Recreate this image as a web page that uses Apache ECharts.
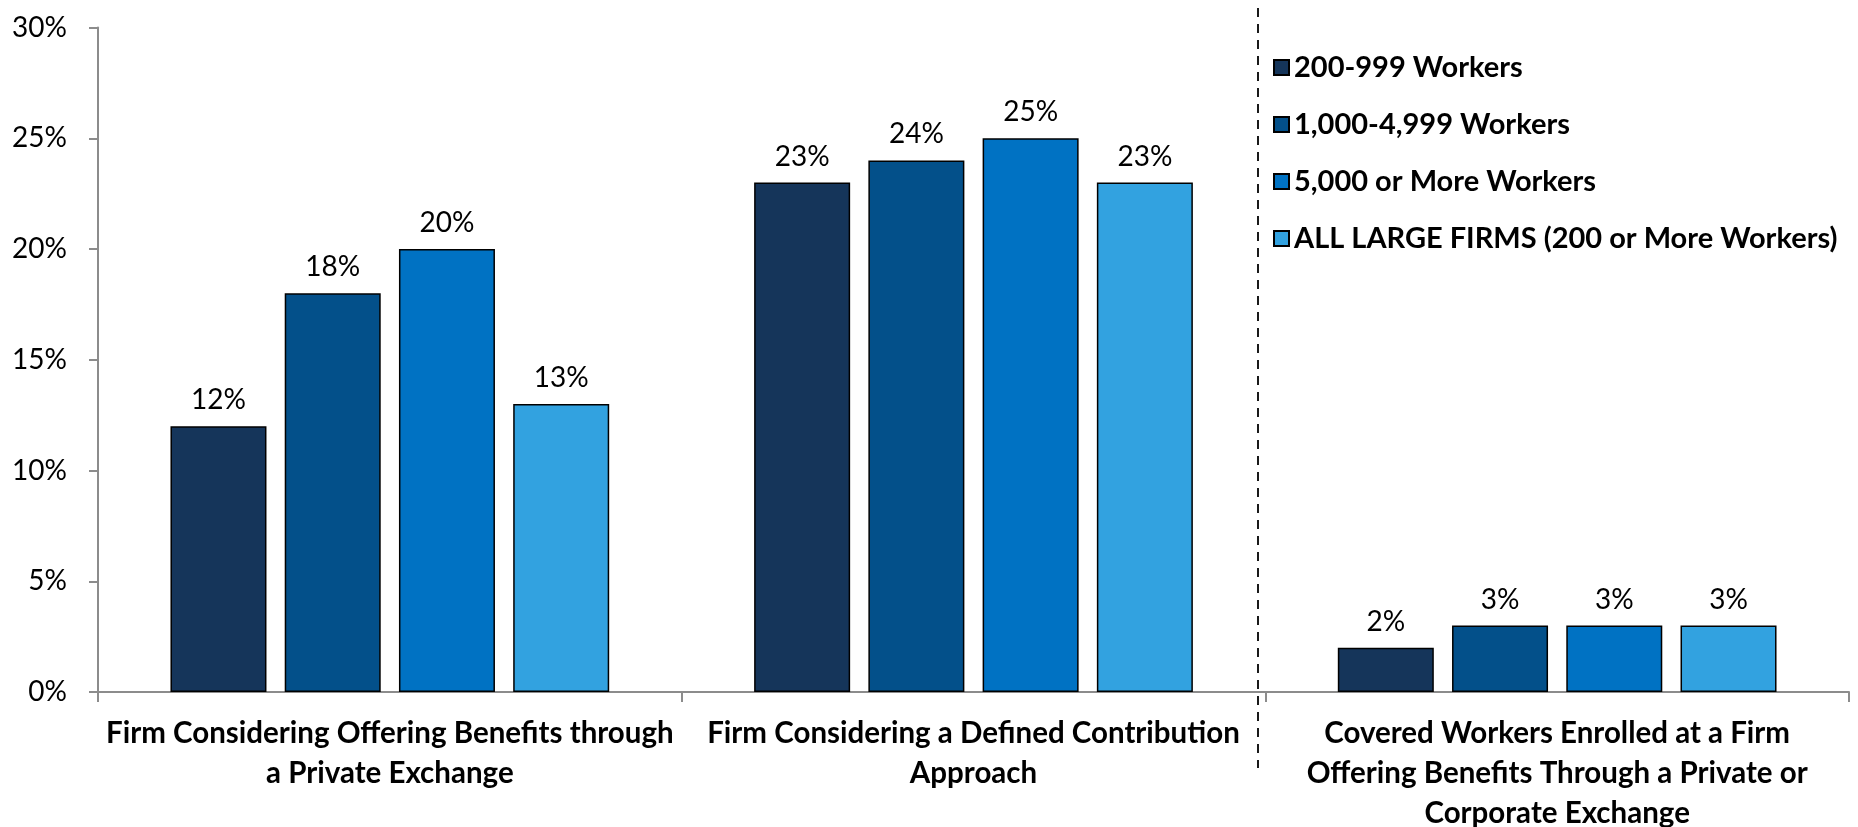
<!DOCTYPE html>
<html>
<head>
<meta charset="utf-8">
<script src="https://cdn.jsdelivr.net/npm/echarts@6/dist/echarts.min.js"></script>
<style>
  html, body { margin: 0; padding: 0; background: #ffffff; }
  #chart { width: 1858px; height: 827px; }
</style>
</head>
<body>
<div id="chart"></div>
<script>
// Category labels (line breaks as they wrap under the axis)
const categories = [
  'Firm Considering Offering Benefits through\na Private Exchange',
  'Firm Considering a Defined Contribution\nApproach',
  'Covered Workers Enrolled at a Firm\nOffering Benefits Through a Private or\nCorporate Exchange'
];

// Series names, in legend order
const seriesNames = [
  '200-999 Workers',
  '1,000-4,999 Workers',
  '5,000 or More Workers',
  'ALL LARGE FIRMS (200 or More Workers)'
];

// Percent values per firm size, one entry per category
const workers200to999 = [12, 23, 2];
const workers1000to4999 = [18, 24, 3];
const workers5000plus = [20, 25, 3];
const allLargeFirms = [13, 23, 3];

// Value axis ticks (percent)
const yTicks = [0, 5, 10, 15, 20, 25, 30];

const seriesValues = [workers200to999, workers1000to4999, workers5000plus, allLargeFirms];
const barColors = ['#15355A', '#03508A', '#0072C3', '#32A2E0'];
const axisGray = '#8C8C8C';
const FONT = 'Lato, "Liberation Sans", sans-serif';

const chart = echarts.init(document.getElementById('chart'), null, { renderer: 'canvas' });

const option = {
  backgroundColor: '#ffffff',
  animation: false,
  textStyle: { fontFamily: FONT },
  grid: {
    left: 98, right: 9, top: 27.5, bottom: 135,
    containLabel: false,
    outerBoundsMode: 'none'
  },
  legend: {
    orient: 'vertical',
    left: 1268,
    top: 48,
    itemWidth: 15,
    itemHeight: 15,
    itemGap: 28,
    icon: 'rect',
    data: seriesNames,
    textStyle: {
      fontFamily: FONT,
      fontSize: 29,
      fontWeight: 'bold',
      color: '#000000',
      lineHeight: 29,
      padding: [0, 0, 0, 0]
    }
  },
  xAxis: {
    type: 'category',
    data: categories,
    boundaryGap: true,
    axisLine: { show: true, lineStyle: { color: axisGray, width: 2 } },
    axisTick: { show: true, alignWithLabel: false, length: 10, lineStyle: { color: axisGray, width: 2 } },
    axisLabel: {
      interval: 0,
      margin: 21,
      fontFamily: FONT,
      fontSize: 29.5,
      fontWeight: 'bold',
      color: '#000000',
      lineHeight: 40
    }
  },
  yAxis: {
    type: 'value',
    min: yTicks[0],
    max: yTicks[yTicks.length - 1],
    interval: yTicks[1] - yTicks[0],
    axisLine: { show: true, lineStyle: { color: axisGray, width: 2 } },
    axisTick: { show: true, length: 9, lineStyle: { color: axisGray, width: 2 } },
    splitLine: { show: false },
    axisLabel: {
      margin: 31,
      fontFamily: FONT,
      fontSize: 28,
      color: '#000000',
      formatter: '{value}%'
    }
  },
  series: seriesNames.map((name, i) => ({
    name: name,
    type: 'bar',
    data: seriesValues[i],
    barWidth: 96,
    barGap: '19%',
    itemStyle: { color: barColors[i], borderColor: '#000000', borderWidth: 1.5 },
    label: {
      show: true,
      position: 'top',
      distance: 12,
      formatter: '{c}%',
      fontFamily: FONT,
      fontSize: 28,
      color: '#000000'
    }
  }))
};

chart.setOption(option);

// Dashed separator set just left of the boundary between the 2nd and 3rd categories
const c1 = chart.convertToPixel({ xAxisIndex: 0 }, 1);
const c2 = chart.convertToPixel({ xAxisIndex: 0 }, 2);
const sepX = Math.round((c1 + c2) / 2) - 7;
chart.setOption({
  graphic: [{
    type: 'line',
    silent: true,
    z: 100,
    shape: { x1: sepX, y1: 8, x2: sepX, y2: 768 },
    style: { stroke: '#1a1a1a', lineWidth: 2, lineDash: [9, 7] }
  }]
});
</script>
</body>
</html>
